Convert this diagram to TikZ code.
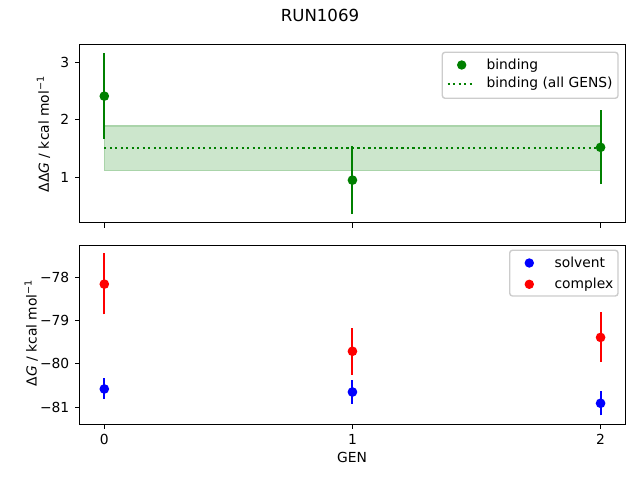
\documentclass[tikz,border=0pt]{standalone}
\usepackage{fontspec}
\setmainfont{DejaVu Sans}
\usepackage{tikz}
\usepackage{xcolor}
\definecolor{mplgreen}{RGB}{0,128,0}
\definecolor{mplblue}{RGB}{0,0,255}
\definecolor{mplred}{RGB}{255,0,0}
\definecolor{bandfill}{RGB}{204,230,204}
\definecolor{bandedge}{RGB}{170,212,170}
\definecolor{legedge}{RGB}{204,204,204}
\tikzset{
  spine/.style={black, line width=0.8pt},
  errbar/.style={line width=1.5pt},
  ticklabel/.style={inner sep=0pt, font=\fontsize{10}{12}\selectfont},
  legbox/.style={draw=legedge, fill=white, line width=1pt, rounded corners=2pt},
  dotline/.style={line width=1.5pt, dash pattern=on 1.5pt off 2.475pt}
}

\begin{document}
\begin{tikzpicture}[x=0.01in, y=0.01in]
\useasboundingbox (0,0) rectangle (640,480);
\node [ticklabel, font=\fontsize{12}{14}\selectfont] (title) at (320,464.3) {RUN1069};

\begin{scope}[shift={(104.3,245.2)}, x=2.48in, y=0.575in]
\fill [bandfill] (0,1.12) rectangle (2,1.89);
\draw [bandedge, line width=1pt] (0,1.12) rectangle (2,1.89);
\draw [mplgreen, dotline] (0,1.515) -- (2,1.515);
\draw [mplgreen, errbar] (0,1.67) -- (0,3.16);
\fill [mplgreen] (0,2.41) circle (3.5pt);
\draw [mplgreen, errbar] (1,0.36) -- (1,1.54);
\fill [mplgreen] (1,0.95) circle (3.5pt);
\draw [mplgreen, errbar] (2,0.88) -- (2,2.17);
\fill [mplgreen] (2,1.52) circle (3.5pt);
\draw [spine] (-0.1,0.21) rectangle (2.1,3.30);
\foreach \gx in {0,1,2}
  \draw [spine] (\gx,0.21) -- ++(0,-3.5pt);
\foreach \gy in {1,2,3}
  \draw [spine] (-0.1,\gy) -- ++(-3.5pt,0) node [ticklabel, left=3.5pt] {\gy};
\end{scope}

\begin{scope}[shift={(104.3,3582.1)}, x=2.48in, y=0.433in]
\draw [mplblue, errbar] (0,-80.80) -- (0,-80.33);
\fill [mplblue] (0,-80.58) circle (3.5pt);
\draw [mplblue, errbar] (1,-80.92) -- (1,-80.37);
\fill [mplblue] (1,-80.65) circle (3.5pt);
\draw [mplblue, errbar] (2,-81.19) -- (2,-80.63);
\fill [mplblue] (2,-80.91) circle (3.5pt);
\draw [mplred, errbar] (0,-78.86) -- (0,-77.44);
\fill [mplred] (0,-78.16) circle (3.5pt);
\draw [mplred, errbar] (1,-80.25) -- (1,-79.18);
\fill [mplred] (1,-79.71) circle (3.5pt);
\draw [mplred, errbar] (2,-79.96) -- (2,-78.81);
\fill [mplred] (2,-79.39) circle (3.5pt);
\draw [spine] (-0.1,-81.39) rectangle (2.1,-77.27);
\foreach \gx in {0,1,2}
  \draw [spine] (\gx,-81.39) -- ++(0,-3.5pt) node [ticklabel, below=3.5pt] {\gx};
\foreach \gy in {78,79,80,81}
  \draw [spine] (-0.1,-\gy) -- ++(-3.5pt,0) node [ticklabel, left=3.5pt] {−\gy};
\end{scope}

\node [ticklabel, rotate=90, anchor=base] (ddglabel) at (49,346) {ΔΔ\textit{G} / kcal mol\textsuperscript{−1}};
\node [ticklabel, rotate=90, anchor=base] (dglabel) at (36.7,147.2) {Δ\textit{G} / kcal mol\textsuperscript{−1}};
\node [ticklabel] (genlabel) at (352,22.7) {GEN};

\draw [legbox] (442.3,381.7) rectangle (618,427.7);
\fill [mplgreen] (461.7,415) circle (3.4pt);
\node [ticklabel, anchor=base west] (bindtext) at (486.3,410.7) {binding};
\draw [mplgreen, dotline] (447.7,396.3) -- (475,396.3);
\node [ticklabel, anchor=base west] (alltext) at (486.3,392) {binding (all GENS)};

\draw [legbox] (509.7,184) rectangle (618,229.7);
\fill [mplblue] (529.3,217) circle (3.4pt);
\node [ticklabel, anchor=base west] (solvtext) at (554.3,212.7) {solvent};
\fill [mplred] (529.3,195.7) circle (3.4pt);
\node [ticklabel, anchor=base west] (cplxtext) at (554.3,191.7) {complex};
\end{tikzpicture}
\end{document}
